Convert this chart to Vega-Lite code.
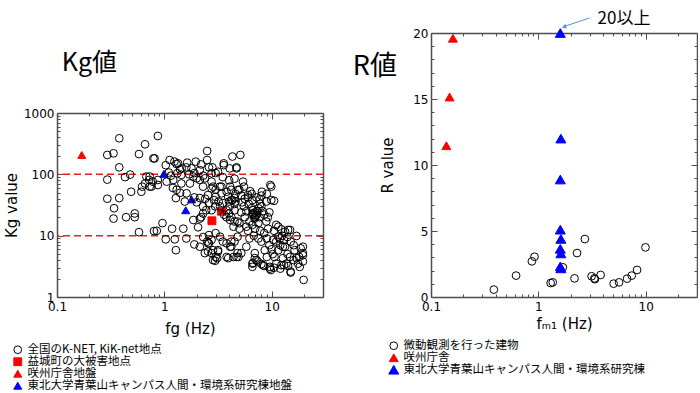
{
  "$schema": "https://vega.github.io/schema/vega-lite/v6.json",
  "padding": {"left": 4, "top": 10, "right": 0, "bottom": 0},
  "bounds": "flush",
  "spacing": 108,
  "config": {
    "view": {"stroke": null},
    "axis": {
      "grid": false, "domainColor": "#4d4d4d", "domainWidth": 1.5, "tickColor": "#4d4d4d", "tickWidth": 1,
      "labelFont": "DejaVu Sans", "labelFontSize": 12, "labelColor": "#000",
      "titleFont": "DejaVu Sans", "titleFontSize": 15, "titleFontWeight": "normal", "titleColor": "#000",
      "labelFlush": false, "labelOverlap": false
    },
    "legend": {"padding": 0, "labelFont": "Noto Sans CJK JP", "labelFontSize": 11.5, "labelLimit": 400, "rowPadding": -2, "labelOffset": 4, "symbolStrokeWidth": 1}
  },
  "datasets": {
    "kg": [
      {"f": 0.38, "k": 387, "g": "全国のK-NET, KiK-net地点"},
      {"f": 0.294, "k": 207, "g": "全国のK-NET, KiK-net地点"},
      {"f": 0.336, "k": 220, "g": "全国のK-NET, KiK-net地点"},
      {"f": 0.66, "k": 309, "g": "全国のK-NET, KiK-net地点"},
      {"f": 0.58, "k": 214, "g": "全国のK-NET, KiK-net地点"},
      {"f": 0.79, "k": 182, "g": "全国のK-NET, KiK-net地点"},
      {"f": 0.38, "k": 130, "g": "全国のK-NET, KiK-net地点"},
      {"f": 0.294, "k": 82, "g": "全国のK-NET, KiK-net地点"},
      {"f": 0.43, "k": 90, "g": "全国のK-NET, KiK-net地点"},
      {"f": 0.48, "k": 99, "g": "全国のK-NET, KiK-net地点"},
      {"f": 0.49, "k": 52, "g": "全国のK-NET, KiK-net地点"},
      {"f": 0.61, "k": 52, "g": "全国のK-NET, KiK-net地点"},
      {"f": 0.62, "k": 63, "g": "全国のK-NET, KiK-net地点"},
      {"f": 0.66, "k": 71, "g": "全国のK-NET, KiK-net地点"},
      {"f": 0.72, "k": 81, "g": "全国のK-NET, KiK-net地点"},
      {"f": 0.68, "k": 92, "g": "全国のK-NET, KiK-net地点"},
      {"f": 0.76, "k": 63, "g": "全国のK-NET, KiK-net地点"},
      {"f": 0.294, "k": 40, "g": "全国のK-NET, KiK-net地点"},
      {"f": 0.38, "k": 41, "g": "全国のK-NET, KiK-net地点"},
      {"f": 0.34, "k": 28, "g": "全国のK-NET, KiK-net地点"},
      {"f": 0.336, "k": 19, "g": "全国のK-NET, KiK-net地点"},
      {"f": 0.44, "k": 20, "g": "全国のK-NET, KiK-net地点"},
      {"f": 0.53, "k": 23, "g": "全国のK-NET, KiK-net地点"},
      {"f": 0.53, "k": 20, "g": "全国のK-NET, KiK-net地点"},
      {"f": 0.58, "k": 11.4, "g": "全国のK-NET, KiK-net地点"},
      {"f": 0.8, "k": 11.9, "g": "全国のK-NET, KiK-net地点"},
      {"f": 0.87, "k": 422, "g": "全国のK-NET, KiK-net地点"},
      {"f": 0.81, "k": 182, "g": "全国のK-NET, KiK-net地点"},
      {"f": 1.12, "k": 171, "g": "全国のK-NET, KiK-net地点"},
      {"f": 1.24, "k": 161, "g": "全国のK-NET, KiK-net地点"},
      {"f": 1.34, "k": 151, "g": "全国のK-NET, KiK-net地点"},
      {"f": 1.63, "k": 155, "g": "全国のK-NET, KiK-net地点"},
      {"f": 1.96, "k": 161, "g": "全国のK-NET, KiK-net地点"},
      {"f": 1.79, "k": 125, "g": "全国のK-NET, KiK-net地点"},
      {"f": 2.5, "k": 240, "g": "全国のK-NET, KiK-net地点"},
      {"f": 2.5, "k": 171, "g": "全国のK-NET, KiK-net地点"},
      {"f": 3.57, "k": 151, "g": "全国のK-NET, KiK-net地点"},
      {"f": 4.3, "k": 195, "g": "全国のK-NET, KiK-net地点"},
      {"f": 5.1, "k": 207, "g": "全国のK-NET, KiK-net地点"},
      {"f": 2.14, "k": 117, "g": "全国のK-NET, KiK-net地点"},
      {"f": 2.75, "k": 104, "g": "全国のK-NET, KiK-net地点"},
      {"f": 3.16, "k": 110, "g": "全国のK-NET, KiK-net地点"},
      {"f": 4.06, "k": 125, "g": "全国のK-NET, KiK-net地点"},
      {"f": 0.73, "k": 92, "g": "全国のK-NET, KiK-net地点"},
      {"f": 0.87, "k": 81, "g": "全国のK-NET, KiK-net地点"},
      {"f": 1.21, "k": 81, "g": "全国のK-NET, KiK-net地点"},
      {"f": 1.44, "k": 71, "g": "全国のK-NET, KiK-net地点"},
      {"f": 1.73, "k": 71, "g": "全国のK-NET, KiK-net地点"},
      {"f": 2.0, "k": 86, "g": "全国のK-NET, KiK-net地点"},
      {"f": 2.29, "k": 63, "g": "全国のK-NET, KiK-net地点"},
      {"f": 2.75, "k": 59, "g": "全国のK-NET, KiK-net地点"},
      {"f": 3.28, "k": 63, "g": "全国のK-NET, KiK-net地点"},
      {"f": 4.2, "k": 56, "g": "全国のK-NET, KiK-net地点"},
      {"f": 4.86, "k": 56, "g": "全国のK-NET, KiK-net地点"},
      {"f": 1.28, "k": 41, "g": "全国のK-NET, KiK-net地点"},
      {"f": 1.61, "k": 49, "g": "全国のK-NET, KiK-net地点"},
      {"f": 1.55, "k": 36, "g": "全国のK-NET, KiK-net地点"},
      {"f": 2.14, "k": 41, "g": "全国のK-NET, KiK-net地点"},
      {"f": 2.29, "k": 30, "g": "全国のK-NET, KiK-net地点"},
      {"f": 2.75, "k": 26, "g": "全国のK-NET, KiK-net地点"},
      {"f": 3.79, "k": 20, "g": "全国のK-NET, KiK-net地点"},
      {"f": 2.14, "k": 19, "g": "全国のK-NET, KiK-net地点"},
      {"f": 0.85, "k": 12, "g": "全国のK-NET, KiK-net地点"},
      {"f": 0.96, "k": 16, "g": "全国のK-NET, KiK-net地点"},
      {"f": 1.18, "k": 13, "g": "全国のK-NET, KiK-net地点"},
      {"f": 1.5, "k": 13, "g": "全国のK-NET, KiK-net地点"},
      {"f": 2.06, "k": 13.7, "g": "全国のK-NET, KiK-net地点"},
      {"f": 1.03, "k": 8.7, "g": "全国のK-NET, KiK-net地点"},
      {"f": 1.28, "k": 5.8, "g": "全国のK-NET, KiK-net地点"},
      {"f": 1.25, "k": 8.7, "g": "全国のK-NET, KiK-net地点"},
      {"f": 2.14, "k": 6.6, "g": "全国のK-NET, KiK-net地点"},
      {"f": 2.56, "k": 7.5, "g": "全国のK-NET, KiK-net地点"},
      {"f": 2.84, "k": 5.8, "g": "全国のK-NET, KiK-net地点"},
      {"f": 2.84, "k": 4.0, "g": "全国のK-NET, KiK-net地点"},
      {"f": 3.16, "k": 5.5, "g": "全国のK-NET, KiK-net地点"},
      {"f": 3.79, "k": 7.5, "g": "全国のK-NET, KiK-net地点"},
      {"f": 4.2, "k": 6.6, "g": "全国のK-NET, KiK-net地点"},
      {"f": 3.93, "k": 4.3, "g": "全国のK-NET, KiK-net地点"},
      {"f": 4.7, "k": 4.5, "g": "全国のK-NET, KiK-net地点"},
      {"f": 2.38, "k": 5.2, "g": "全国のK-NET, KiK-net地点"},
      {"f": 0.73, "k": 63, "g": "全国のK-NET, KiK-net地点"},
      {"f": 1.03, "k": 141, "g": "全国のK-NET, KiK-net地点"},
      {"f": 1.3, "k": 147, "g": "全国のK-NET, KiK-net地点"},
      {"f": 1.1, "k": 107, "g": "全国のK-NET, KiK-net地点"},
      {"f": 1.32, "k": 104, "g": "全国のK-NET, KiK-net地点"},
      {"f": 1.44, "k": 98, "g": "全国のK-NET, KiK-net地点"},
      {"f": 0.78, "k": 76, "g": "全国のK-NET, KiK-net地点"},
      {"f": 0.87, "k": 67, "g": "全国のK-NET, KiK-net地点"},
      {"f": 1.05, "k": 76, "g": "全国のK-NET, KiK-net地点"},
      {"f": 1.86, "k": 92, "g": "全国のK-NET, KiK-net地点"},
      {"f": 2.75, "k": 76, "g": "全国のK-NET, KiK-net地点"},
      {"f": 3.0, "k": 56, "g": "全国のK-NET, KiK-net地点"},
      {"f": 3.4, "k": 49, "g": "全国のK-NET, KiK-net地点"},
      {"f": 3.93, "k": 43, "g": "全国のK-NET, KiK-net地点"},
      {"f": 4.2, "k": 38, "g": "全国のK-NET, KiK-net地点"},
      {"f": 4.5, "k": 41, "g": "全国のK-NET, KiK-net地点"},
      {"f": 2.55, "k": 46, "g": "全国のK-NET, KiK-net地点"},
      {"f": 3.0, "k": 43, "g": "全国のK-NET, KiK-net地点"},
      {"f": 2.29, "k": 23, "g": "全国のK-NET, KiK-net地点"},
      {"f": 2.45, "k": 26, "g": "全国のK-NET, KiK-net地点"},
      {"f": 2.97, "k": 30, "g": "全国のK-NET, KiK-net地点"},
      {"f": 4.06, "k": 30, "g": "全国のK-NET, KiK-net地点"},
      {"f": 3.79, "k": 26, "g": "全国のK-NET, KiK-net地点"},
      {"f": 4.5, "k": 26, "g": "全国のK-NET, KiK-net地点"},
      {"f": 4.1, "k": 18, "g": "全国のK-NET, KiK-net地点"},
      {"f": 4.8, "k": 17, "g": "全国のK-NET, KiK-net地点"},
      {"f": 1.86, "k": 18, "g": "全国のK-NET, KiK-net地点"},
      {"f": 2.2, "k": 20, "g": "全国のK-NET, KiK-net地点"},
      {"f": 2.6, "k": 10.2, "g": "全国のK-NET, KiK-net地点"},
      {"f": 3.0, "k": 11, "g": "全国のK-NET, KiK-net地点"},
      {"f": 3.3, "k": 9.6, "g": "全国のK-NET, KiK-net地点"},
      {"f": 2.75, "k": 8.5, "g": "全国のK-NET, KiK-net地点"},
      {"f": 3.5, "k": 8, "g": "全国のK-NET, KiK-net地点"},
      {"f": 4.2, "k": 8, "g": "全国のK-NET, KiK-net地点"},
      {"f": 2.55, "k": 5.5, "g": "全国のK-NET, KiK-net地点"},
      {"f": 3.0, "k": 4.5, "g": "全国のK-NET, KiK-net地点"},
      {"f": 4.7, "k": 125, "g": "全国のK-NET, KiK-net地点"},
      {"f": 5.4, "k": 76, "g": "全国のK-NET, KiK-net地点"},
      {"f": 9.7, "k": 67, "g": "全国のK-NET, KiK-net地点"},
      {"f": 10.5, "k": 37, "g": "全国のK-NET, KiK-net地点"},
      {"f": 8.1, "k": 52, "g": "全国のK-NET, KiK-net地点"},
      {"f": 6.0, "k": 42, "g": "全国のK-NET, KiK-net地点"},
      {"f": 6.6, "k": 38, "g": "全国のK-NET, KiK-net地点"},
      {"f": 7.7, "k": 39, "g": "全国のK-NET, KiK-net地点"},
      {"f": 8.9, "k": 36, "g": "全国のK-NET, KiK-net地点"},
      {"f": 6.7, "k": 26, "g": "全国のK-NET, KiK-net地点"},
      {"f": 6.7, "k": 23, "g": "全国のK-NET, KiK-net地点"},
      {"f": 6.95, "k": 20, "g": "全国のK-NET, KiK-net地点"},
      {"f": 7.5, "k": 16, "g": "全国のK-NET, KiK-net地点"},
      {"f": 5.6, "k": 20, "g": "全国のK-NET, KiK-net地点"},
      {"f": 5.0, "k": 16, "g": "全国のK-NET, KiK-net地点"},
      {"f": 4.5, "k": 17, "g": "全国のK-NET, KiK-net地点"},
      {"f": 8.9, "k": 17, "g": "全国のK-NET, KiK-net地点"},
      {"f": 9.25, "k": 13, "g": "全国のK-NET, KiK-net地点"},
      {"f": 11, "k": 15, "g": "全国のK-NET, KiK-net地点"},
      {"f": 12.3, "k": 12.7, "g": "全国のK-NET, KiK-net地点"},
      {"f": 14.2, "k": 12.4, "g": "全国のK-NET, KiK-net地点"},
      {"f": 17, "k": 9.9, "g": "全国のK-NET, KiK-net地点"},
      {"f": 11.5, "k": 9.6, "g": "全国のK-NET, KiK-net地点"},
      {"f": 10.3, "k": 8.5, "g": "全国のK-NET, KiK-net地点"},
      {"f": 6.2, "k": 9.0, "g": "全国のK-NET, KiK-net地点"},
      {"f": 4.8, "k": 9.6, "g": "全国のK-NET, KiK-net地点"},
      {"f": 5.8, "k": 6.6, "g": "全国のK-NET, KiK-net地点"},
      {"f": 5.2, "k": 5.2, "g": "全国のK-NET, KiK-net地点"},
      {"f": 6.95, "k": 5.2, "g": "全国のK-NET, KiK-net地点"},
      {"f": 8.6, "k": 5.8, "g": "全国のK-NET, KiK-net地点"},
      {"f": 6.7, "k": 3.6, "g": "全国のK-NET, KiK-net地点"},
      {"f": 8.0, "k": 3.45, "g": "全国のK-NET, KiK-net地点"},
      {"f": 9.6, "k": 3.1, "g": "全国のK-NET, KiK-net地点"},
      {"f": 12.3, "k": 3.3, "g": "全国のK-NET, KiK-net地点"},
      {"f": 13.7, "k": 3.5, "g": "全国のK-NET, KiK-net地点"},
      {"f": 15, "k": 2.5, "g": "全国のK-NET, KiK-net地点"},
      {"f": 17.6, "k": 3.5, "g": "全国のK-NET, KiK-net地点"},
      {"f": 19.5, "k": 6.6, "g": "全国のK-NET, KiK-net地点"},
      {"f": 19.5, "k": 4.8, "g": "全国のK-NET, KiK-net地点"},
      {"f": 19.8, "k": 1.9, "g": "全国のK-NET, KiK-net地点"},
      {"f": 14.8, "k": 4.5, "g": "全国のK-NET, KiK-net地点"},
      {"f": 12.7, "k": 4.3, "g": "全国のK-NET, KiK-net地点"},
      {"f": 11, "k": 3.5, "g": "全国のK-NET, KiK-net地点"},
      {"f": 10.6, "k": 4.5, "g": "全国のK-NET, KiK-net地点"},
      {"f": 11.5, "k": 5.8, "g": "全国のK-NET, KiK-net地点"},
      {"f": 13.3, "k": 6.6, "g": "全国のK-NET, KiK-net地点"},
      {"f": 16.3, "k": 5.8, "g": "全国のK-NET, KiK-net地点"},
      {"f": 17, "k": 4.3, "g": "全国のK-NET, KiK-net地点"},
      {"f": 6.95, "k": 4.3, "g": "全国のK-NET, KiK-net地点"},
      {"f": 3.57, "k": 141, "g": "全国のK-NET, KiK-net地点"},
      {"f": 4.7, "k": 130, "g": "全国のK-NET, KiK-net地点"},
      {"f": 2.14, "k": 81, "g": "全国のK-NET, KiK-net地点"},
      {"f": 2.38, "k": 86, "g": "全国のK-NET, KiK-net地点"},
      {"f": 2.84, "k": 63, "g": "全国のK-NET, KiK-net地点"},
      {"f": 3.4, "k": 63, "g": "全国のK-NET, KiK-net地点"},
      {"f": 4.1, "k": 63, "g": "全国のK-NET, KiK-net地点"},
      {"f": 3.8, "k": 52, "g": "全国のK-NET, KiK-net地点"},
      {"f": 4.3, "k": 38, "g": "全国のK-NET, KiK-net地点"},
      {"f": 4.5, "k": 33, "g": "全国のK-NET, KiK-net地点"},
      {"f": 5.0, "k": 56, "g": "全国のK-NET, KiK-net地点"},
      {"f": 6.0, "k": 46, "g": "全国のK-NET, KiK-net地点"},
      {"f": 6.6, "k": 23, "g": "全国のK-NET, KiK-net地点"},
      {"f": 7.2, "k": 22, "g": "全国のK-NET, KiK-net地点"},
      {"f": 7.7, "k": 20, "g": "全国のK-NET, KiK-net地点"},
      {"f": 9.9, "k": 38, "g": "全国のK-NET, KiK-net地点"},
      {"f": 9.9, "k": 63, "g": "全国のK-NET, KiK-net地点"},
      {"f": 6.6, "k": 15, "g": "全国のK-NET, KiK-net地点"},
      {"f": 5.8, "k": 14, "g": "全国のK-NET, KiK-net地点"},
      {"f": 5.0, "k": 13, "g": "全国のK-NET, KiK-net地点"},
      {"f": 4.4, "k": 14, "g": "全国のK-NET, KiK-net地点"},
      {"f": 4.5, "k": 8, "g": "全国のK-NET, KiK-net地点"},
      {"f": 4.1, "k": 6.6, "g": "全国のK-NET, KiK-net地点"},
      {"f": 4.8, "k": 5.2, "g": "全国のK-NET, KiK-net地点"},
      {"f": 4.9, "k": 4.5, "g": "全国のK-NET, KiK-net地点"},
      {"f": 4.4, "k": 4.5, "g": "全国のK-NET, KiK-net地点"},
      {"f": 3.8, "k": 4.5, "g": "全国のK-NET, KiK-net地点"},
      {"f": 3.16, "k": 5.8, "g": "全国のK-NET, KiK-net地点"},
      {"f": 2.75, "k": 5.2, "g": "全国のK-NET, KiK-net地点"},
      {"f": 2.97, "k": 3.9, "g": "全国のK-NET, KiK-net地点"},
      {"f": 3.1, "k": 4.3, "g": "全国のK-NET, KiK-net地点"},
      {"f": 2.6, "k": 7.5, "g": "全国のK-NET, KiK-net地点"},
      {"f": 2.5, "k": 8, "g": "全国のK-NET, KiK-net地点"},
      {"f": 6.6, "k": 3.5, "g": "全国のK-NET, KiK-net地点"},
      {"f": 7.2, "k": 4.0, "g": "全国のK-NET, KiK-net地点"},
      {"f": 6.6, "k": 3.1, "g": "全国のK-NET, KiK-net地点"},
      {"f": 8.3, "k": 3.3, "g": "全国のK-NET, KiK-net地点"},
      {"f": 9.6, "k": 2.9, "g": "全国のK-NET, KiK-net地点"},
      {"f": 9.8, "k": 2.75, "g": "全国のK-NET, KiK-net地点"},
      {"f": 12.7, "k": 6.6, "g": "全国のK-NET, KiK-net地点"},
      {"f": 11, "k": 8, "g": "全国のK-NET, KiK-net地点"},
      {"f": 11.9, "k": 9, "g": "全国のK-NET, KiK-net地点"},
      {"f": 13.3, "k": 11.6, "g": "全国のK-NET, KiK-net地点"},
      {"f": 14.8, "k": 12.4, "g": "全国のK-NET, KiK-net地点"},
      {"f": 14.2, "k": 3.2, "g": "全国のK-NET, KiK-net地点"},
      {"f": 15, "k": 2.6, "g": "全国のK-NET, KiK-net地点"},
      {"f": 18.2, "k": 3.1, "g": "全国のK-NET, KiK-net地点"},
      {"f": 19.5, "k": 3.8, "g": "全国のK-NET, KiK-net地点"},
      {"f": 18.6, "k": 6.2, "g": "全国のK-NET, KiK-net地点"},
      {"f": 19.5, "k": 5.2, "g": "全国のK-NET, KiK-net地点"},
      {"f": 6.8, "k": 22, "g": "全国のK-NET, KiK-net地点"},
      {"f": 7.0, "k": 24, "g": "全国のK-NET, KiK-net地点"},
      {"f": 7.1, "k": 21, "g": "全国のK-NET, KiK-net地点"},
      {"f": 6.9, "k": 19, "g": "全国のK-NET, KiK-net地点"},
      {"f": 7.3, "k": 25, "g": "全国のK-NET, KiK-net地点"},
      {"f": 6.5, "k": 28, "g": "全国のK-NET, KiK-net地点"},
      {"f": 7.5, "k": 28, "g": "全国のK-NET, KiK-net地点"},
      {"f": 8.2, "k": 25, "g": "全国のK-NET, KiK-net地点"},
      {"f": 8.5, "k": 22, "g": "全国のK-NET, KiK-net地点"},
      {"f": 9.2, "k": 20, "g": "全国のK-NET, KiK-net地点"},
      {"f": 9.5, "k": 24, "g": "全国のK-NET, KiK-net地点"},
      {"f": 8.0, "k": 30, "g": "全国のK-NET, KiK-net地点"},
      {"f": 7.8, "k": 33, "g": "全国のK-NET, KiK-net地点"},
      {"f": 5.5, "k": 30, "g": "全国のK-NET, KiK-net地点"},
      {"f": 5.2, "k": 24, "g": "全国のK-NET, KiK-net地点"},
      {"f": 5.8, "k": 25, "g": "全国のK-NET, KiK-net地点"},
      {"f": 6.2, "k": 17, "g": "全国のK-NET, KiK-net地点"},
      {"f": 6.0, "k": 12, "g": "全国のK-NET, KiK-net地点"},
      {"f": 7.0, "k": 13, "g": "全国のK-NET, KiK-net地点"},
      {"f": 7.8, "k": 12, "g": "全国のK-NET, KiK-net地点"},
      {"f": 8.5, "k": 11, "g": "全国のK-NET, KiK-net地点"},
      {"f": 9.0, "k": 9, "g": "全国のK-NET, KiK-net地点"},
      {"f": 8.0, "k": 8, "g": "全国のK-NET, KiK-net地点"},
      {"f": 7.5, "k": 9, "g": "全国のK-NET, KiK-net地点"},
      {"f": 6.8, "k": 10, "g": "全国のK-NET, KiK-net地点"},
      {"f": 9.5, "k": 7, "g": "全国のK-NET, KiK-net地点"},
      {"f": 10.0, "k": 6.0, "g": "全国のK-NET, KiK-net地点"},
      {"f": 12.0, "k": 7, "g": "全国のK-NET, KiK-net地点"},
      {"f": 13.0, "k": 8.5, "g": "全国のK-NET, KiK-net地点"},
      {"f": 14.0, "k": 9.5, "g": "全国のK-NET, KiK-net地点"},
      {"f": 15.0, "k": 8, "g": "全国のK-NET, KiK-net地点"},
      {"f": 16.0, "k": 7, "g": "全国のK-NET, KiK-net地点"},
      {"f": 10.5, "k": 12, "g": "全国のK-NET, KiK-net地点"},
      {"f": 11.5, "k": 14, "g": "全国のK-NET, KiK-net地点"},
      {"f": 12.5, "k": 10, "g": "全国のK-NET, KiK-net地点"},
      {"f": 14, "k": 5, "g": "全国のK-NET, KiK-net地点"},
      {"f": 16, "k": 4, "g": "全国のK-NET, KiK-net地点"},
      {"f": 18, "k": 4.5, "g": "全国のK-NET, KiK-net地点"},
      {"f": 12, "k": 2.9, "g": "全国のK-NET, KiK-net地点"},
      {"f": 8.5, "k": 3.2, "g": "全国のK-NET, KiK-net地点"},
      {"f": 7.4, "k": 3.8, "g": "全国のK-NET, KiK-net地点"},
      {"f": 9, "k": 4.5, "g": "全国のK-NET, KiK-net地点"},
      {"f": 10.2, "k": 5, "g": "全国のK-NET, KiK-net地点"},
      {"f": 10.5, "k": 3, "g": "全国のK-NET, KiK-net地点"},
      {"f": 13, "k": 3.3, "g": "全国のK-NET, KiK-net地点"},
      {"f": 4.2, "k": 20, "g": "全国のK-NET, KiK-net地点"},
      {"f": 4.0, "k": 23, "g": "全国のK-NET, KiK-net地点"},
      {"f": 3.6, "k": 22, "g": "全国のK-NET, KiK-net地点"},
      {"f": 3.3, "k": 30, "g": "全国のK-NET, KiK-net地点"},
      {"f": 3.5, "k": 34, "g": "全国のK-NET, KiK-net地点"},
      {"f": 4.0, "k": 36, "g": "全国のK-NET, KiK-net地点"},
      {"f": 4.6, "k": 36, "g": "全国のK-NET, KiK-net地点"},
      {"f": 4.6, "k": 48, "g": "全国のK-NET, KiK-net地点"},
      {"f": 5.2, "k": 45, "g": "全国のK-NET, KiK-net地点"},
      {"f": 5.6, "k": 40, "g": "全国のK-NET, KiK-net地点"},
      {"f": 6.3, "k": 53, "g": "全国のK-NET, KiK-net地点"},
      {"f": 6.1, "k": 33, "g": "全国のK-NET, KiK-net地点"},
      {"f": 5.3, "k": 35, "g": "全国のK-NET, KiK-net地点"},
      {"f": 3.2, "k": 36, "g": "全国のK-NET, KiK-net地点"},
      {"f": 2.9, "k": 38, "g": "全国のK-NET, KiK-net地点"},
      {"f": 2.6, "k": 34, "g": "全国のK-NET, KiK-net地点"},
      {"f": 2.4, "k": 40, "g": "全国のK-NET, KiK-net地点"},
      {"f": 2.0, "k": 35, "g": "全国のK-NET, KiK-net地点"},
      {"f": 1.9, "k": 42, "g": "全国のK-NET, KiK-net地点"},
      {"f": 1.4, "k": 50, "g": "全国のK-NET, KiK-net地点"},
      {"f": 1.3, "k": 56, "g": "全国のK-NET, KiK-net地点"},
      {"f": 1.2, "k": 60, "g": "全国のK-NET, KiK-net地点"},
      {"f": 1.15, "k": 95, "g": "全国のK-NET, KiK-net地点"},
      {"f": 1.4, "k": 120, "g": "全国のK-NET, KiK-net地点"},
      {"f": 1.6, "k": 130, "g": "全国のK-NET, KiK-net地点"},
      {"f": 1.9, "k": 105, "g": "全国のK-NET, KiK-net地点"},
      {"f": 2.3, "k": 95, "g": "全国のK-NET, KiK-net地点"},
      {"f": 2.6, "k": 130, "g": "全国のK-NET, KiK-net地点"},
      {"f": 3.0, "k": 105, "g": "全国のK-NET, KiK-net地点"},
      {"f": 3.5, "k": 90, "g": "全国のK-NET, KiK-net地点"},
      {"f": 4.0, "k": 80, "g": "全国のK-NET, KiK-net地点"},
      {"f": 4.5, "k": 85, "g": "全国のK-NET, KiK-net地点"},
      {"f": 5.5, "k": 63, "g": "全国のK-NET, KiK-net地点"},
      {"f": 6.5, "k": 48, "g": "全国のK-NET, KiK-net地点"},
      {"f": 7.2, "k": 42, "g": "全国のK-NET, KiK-net地点"},
      {"f": 8.0, "k": 45, "g": "全国のK-NET, KiK-net地点"},
      {"f": 9.0, "k": 48, "g": "全国のK-NET, KiK-net地点"},
      {"f": 1.7, "k": 100, "g": "全国のK-NET, KiK-net地点"},
      {"f": 1.45, "k": 125, "g": "全国のK-NET, KiK-net地点"},
      {"f": 2.2, "k": 145, "g": "全国のK-NET, KiK-net地点"},
      {"f": 2.8, "k": 130, "g": "全国のK-NET, KiK-net地点"},
      {"f": 1.6, "k": 9, "g": "全国のK-NET, KiK-net地点"},
      {"f": 1.9, "k": 7.2, "g": "全国のK-NET, KiK-net地点"},
      {"f": 2.3, "k": 9.5, "g": "全国のK-NET, KiK-net地点"},
      {"f": 3.4, "k": 25, "g": "益城町の大被害地点"},
      {"f": 2.77, "k": 17.5, "g": "益城町の大被害地点"},
      {"f": 0.17, "k": 207, "g": "咲州庁舎地盤"},
      {"f": 0.99, "k": 102, "g": "東北大学青葉山キャンパス人間・環境系研究棟地盤"},
      {"f": 1.79, "k": 39, "g": "東北大学青葉山キャンパス人間・環境系研究棟地盤"},
      {"f": 1.58, "k": 26, "g": "東北大学青葉山キャンパス人間・環境系研究棟地盤"}
    ],
    "rv": [
      {"f": 0.385, "r": 0.56, "g": "微動観測を行った建物"},
      {"f": 0.62, "r": 1.62, "g": "微動観測を行った建物"},
      {"f": 0.87, "r": 2.7, "g": "微動観測を行った建物"},
      {"f": 0.92, "r": 3.05, "g": "微動観測を行った建物"},
      {"f": 1.30, "r": 1.06, "g": "微動観測を行った建物"},
      {"f": 1.36, "r": 1.11, "g": "微動観測を行った建物"},
      {"f": 1.69, "r": 2.25, "g": "微動観測を行った建物"},
      {"f": 2.17, "r": 1.41, "g": "微動観測を行った建物"},
      {"f": 2.29, "r": 3.33, "g": "微動観測を行った建物"},
      {"f": 2.71, "r": 4.39, "g": "微動観測を行った建物"},
      {"f": 3.13, "r": 1.57, "g": "微動観測を行った建物"},
      {"f": 3.32, "r": 1.41, "g": "微動観測を行った建物"},
      {"f": 3.36, "r": 1.35, "g": "微動観測を行った建物"},
      {"f": 3.80, "r": 1.67, "g": "微動観測を行った建物"},
      {"f": 5.02, "r": 1.01, "g": "微動観測を行った建物"},
      {"f": 5.64, "r": 1.11, "g": "微動観測を行った建物"},
      {"f": 6.7, "r": 1.39, "g": "微動観測を行った建物"},
      {"f": 7.4, "r": 1.62, "g": "微動観測を行った建物"},
      {"f": 8.3, "r": 2.05, "g": "微動観測を行った建物"},
      {"f": 9.94, "r": 3.76, "g": "微動観測を行った建物"},
      {"f": 0.139, "r": 11.46, "g": "咲州庁舎"},
      {"f": 0.149, "r": 15.15, "g": "咲州庁舎"},
      {"f": 0.160, "r": 19.6, "g": "咲州庁舎"},
      {"f": 1.6, "r": 20, "g": "東北大学青葉山キャンパス人間・環境系研究棟"},
      {"f": 1.62, "r": 12, "g": "東北大学青葉山キャンパス人間・環境系研究棟"},
      {"f": 1.6, "r": 8.9, "g": "東北大学青葉山キャンパス人間・環境系研究棟"},
      {"f": 1.6, "r": 5.1, "g": "東北大学青葉山キャンパス人間・環境系研究棟"},
      {"f": 1.62, "r": 4.4, "g": "東北大学青葉山キャンパス人間・環境系研究棟"},
      {"f": 1.6, "r": 3.65, "g": "東北大学青葉山キャンパス人間・環境系研究棟"},
      {"f": 1.62, "r": 3.3, "g": "東北大学青葉山キャンパス人間・環境系研究棟"},
      {"f": 1.6, "r": 2.32, "g": "東北大学青葉山キャンパス人間・環境系研究棟"},
      {"f": 1.62, "r": 2.17, "g": "東北大学青葉山キャンパス人間・環境系研究棟"}
    ],
    "kglines": [{"k": 100}, {"k": 10}]
  },
  "hconcat": [
    {
      "width": 266,
      "height": 264,
      "resolve": {"axis": {"x": "independent", "y": "independent"}},
      "layer": [
        {
          "data": {"name": "kglines"},
          "mark": {"type": "rule", "color": "#ee1c1c", "strokeWidth": 1.5, "strokeDash": [7, 4]},
          "encoding": {
            "y": {"field": "k", "type": "quantitative", "scale": {"type": "log", "domain": [1, 1000], "range": [264, 80]}, "axis": null}
          }
        },
        {
          "data": {"name": "kg"},
          "mark": {"type": "point", "filled": true, "strokeWidth": 1, "opacity": 1},
          "encoding": {
            "x": {"field": "f", "type": "quantitative", "scale": {"type": "log", "domain": [0.1, 30]},
              "axis": {"orient": "bottom", "title": "fg (Hz)", "values": [0.1,0.2,0.3,0.4,0.5,0.6,0.7,0.8,0.9,1,2,3,4,5,6,7,8,9,10,20],
                "labelExpr": "abs(log(datum.value)/LN10 - round(log(datum.value)/LN10)) < 0.001 ? datum.value + '' : ''",
                "tickSize": {"condition": {"test": "abs(log(datum.value)/LN10 - round(log(datum.value)/LN10)) < 0.001", "value": -6}, "value": -3},
                "labelPadding": 10, "titlePadding": 6}},
            "y": {"field": "k", "type": "quantitative", "scale": {"type": "log", "domain": [1, 1000], "range": [264, 80]},
              "axis": {"orient": "left", "title": "Kg value", "values": [1,2,3,4,5,6,7,8,9,10,20,30,40,50,60,70,80,90,100,200,300,400,500,600,700,800,900,1000],
                "labelExpr": "abs(log(datum.value)/LN10 - round(log(datum.value)/LN10)) < 0.001 ? datum.value + '' : ''",
                "tickSize": {"condition": {"test": "abs(log(datum.value)/LN10 - round(log(datum.value)/LN10)) < 0.001", "value": -6}, "value": -3},
                "labelPadding": 9, "titlePadding": 4}},
            "shape": {"field": "g", "type": "nominal", "scale": {"domain": ["全国のK-NET, KiK-net地点", "益城町の大被害地点", "咲州庁舎地盤", "東北大学青葉山キャンパス人間・環境系研究棟地盤"], "range": ["circle", "square", "triangle-up", "triangle-up"]},
              "legend": {"orient": "none", "legendX": -45, "legendY": 311, "title": null}},
            "fill": {"field": "g", "type": "nominal", "scale": {"domain": ["全国のK-NET, KiK-net地点", "益城町の大被害地点", "咲州庁舎地盤", "東北大学青葉山キャンパス人間・環境系研究棟地盤"], "range": ["rgba(0,0,0,0)", "#ff0000", "#ff0000", "#0000ff"]},
              "legend": {"orient": "none", "legendX": -45, "legendY": 311, "title": null}},
            "stroke": {"field": "g", "type": "nominal", "scale": {"domain": ["全国のK-NET, KiK-net地点", "益城町の大被害地点", "咲州庁舎地盤", "東北大学青葉山キャンパス人間・環境系研究棟地盤"], "range": ["#000000", "#ff0000", "#ff0000", "#0000ff"]},
              "legend": {"orient": "none", "legendX": -45, "legendY": 311, "title": null}},
            "size": {"field": "g", "type": "nominal", "scale": {"domain": ["全国のK-NET, KiK-net地点", "益城町の大被害地点", "咲州庁舎地盤", "東北大学青葉山キャンパス人間・環境系研究棟地盤"], "range": [60, 64, 100, 100]},
              "legend": {"orient": "none", "legendX": -45, "legendY": 311, "title": null}},
            "order": {"field": "g", "sort": "descending"}
          }
        },
        {
          "data": {"name": "kg"},
          "mark": {"type": "point", "opacity": 0},
          "encoding": {
            "x": {"field": "f", "type": "quantitative", "scale": {"type": "log", "domain": [0.1, 30]},
              "axis": {"orient": "top", "title": null, "labels": false, "offset": -80, "values": [0.1,0.2,0.3,0.4,0.5,0.6,0.7,0.8,0.9,1,2,3,4,5,6,7,8,9,10,20],
                "tickSize": {"condition": {"test": "abs(log(datum.value)/LN10 - round(log(datum.value)/LN10)) < 0.001", "value": -6}, "value": -3}}},
            "y": {"field": "k", "type": "quantitative", "scale": {"type": "log", "domain": [1, 1000], "range": [264, 80]},
              "axis": {"orient": "right", "title": null, "labels": false, "values": [1,2,3,4,5,6,7,8,9,10,20,30,40,50,60,70,80,90,100,200,300,400,500,600,700,800,900,1000],
                "tickSize": {"condition": {"test": "abs(log(datum.value)/LN10 - round(log(datum.value)/LN10)) < 0.001", "value": -6}, "value": -3}}}
          }
        },
        {
          "data": {"values": [{"label": "Kg値"}]},
          "mark": {"type": "text", "align": "left", "baseline": "middle", "fontSize": 25, "font": "Noto Sans CJK JP"},
          "encoding": {
            "text": {"field": "label"},
            "x": {"datum": 0.111, "type": "quantitative", "scale": {"type": "log", "domain": [0.1, 30]}, "axis": null},
            "y": {"datum": 6500, "type": "quantitative", "scale": {"type": "log", "domain": [1, 1000], "range": [264, 80]}, "axis": null}
          }
        }
      ]
    },
    {
      "width": 266,
      "height": 264,
      "resolve": {"axis": {"x": "independent", "y": "independent"}},
      "layer": [
        {
          "data": {"name": "rv"},
          "mark": {"type": "point", "filled": true, "strokeWidth": 1, "opacity": 1},
          "encoding": {
            "x": {"field": "f", "type": "quantitative", "scale": {"type": "log", "domain": [0.1, 30]},
              "axis": {"orient": "bottom", "title": "fₘ₁ (Hz)", "values": [0.1,0.2,0.3,0.4,0.5,0.6,0.7,0.8,0.9,1,2,3,4,5,6,7,8,9,10,20],
                "labelExpr": "abs(log(datum.value)/LN10 - round(log(datum.value)/LN10)) < 0.001 ? datum.value + '' : ''",
                "tickSize": {"condition": {"test": "abs(log(datum.value)/LN10 - round(log(datum.value)/LN10)) < 0.001", "value": -6}, "value": -3},
                "labelPadding": 10, "titlePadding": 1}},
            "y": {"field": "r", "type": "quantitative", "scale": {"domain": [0, 20], "nice": false},
              "axis": {"orient": "left", "title": "R value", "values": [0,1,2,3,4,5,6,7,8,9,10,11,12,13,14,15,16,17,18,19,20],
                "labelExpr": "datum.value % 5 == 0 ? datum.value + '' : ''",
                "tickSize": {"condition": {"test": "datum.value % 5 == 0", "value": -6}, "value": -3},
                "labelPadding": 9, "titlePadding": 17}},
            "shape": {"field": "g", "type": "nominal", "scale": {"domain": ["微動観測を行った建物", "咲州庁舎", "東北大学青葉山キャンパス人間・環境系研究棟"], "range": ["circle", "triangle-up", "triangle-up"]},
              "legend": {"orient": "none", "legendX": -43, "legendY": 307, "title": null}},
            "fill": {"field": "g", "type": "nominal", "scale": {"domain": ["微動観測を行った建物", "咲州庁舎", "東北大学青葉山キャンパス人間・環境系研究棟"], "range": ["rgba(0,0,0,0)", "#ff0000", "#0000ff"]},
              "legend": {"orient": "none", "legendX": -43, "legendY": 307, "title": null}},
            "stroke": {"field": "g", "type": "nominal", "scale": {"domain": ["微動観測を行った建物", "咲州庁舎", "東北大学青葉山キャンパス人間・環境系研究棟"], "range": ["#000000", "#ff0000", "#0000ff"]},
              "legend": {"orient": "none", "legendX": -43, "legendY": 307, "title": null}},
            "size": {"field": "g", "type": "nominal", "scale": {"domain": ["微動観測を行った建物", "咲州庁舎", "東北大学青葉山キャンパス人間・環境系研究棟"], "range": [60, 100, 100]},
              "legend": {"orient": "none", "legendX": -43, "legendY": 307, "title": null}}
          }
        },
        {
          "data": {"name": "rv"},
          "mark": {"type": "point", "opacity": 0},
          "encoding": {
            "x": {"field": "f", "type": "quantitative", "scale": {"type": "log", "domain": [0.1, 30]},
              "axis": {"orient": "top", "title": null, "labels": false, "values": [0.1,0.2,0.3,0.4,0.5,0.6,0.7,0.8,0.9,1,2,3,4,5,6,7,8,9,10,20],
                "tickSize": {"condition": {"test": "abs(log(datum.value)/LN10 - round(log(datum.value)/LN10)) < 0.001", "value": -6}, "value": -3}}},
            "y": {"field": "r", "type": "quantitative", "scale": {"domain": [0, 20], "nice": false},
              "axis": {"orient": "right", "title": null, "labels": false, "values": [0,1,2,3,4,5,6,7,8,9,10,11,12,13,14,15,16,17,18,19,20],
                "tickSize": {"condition": {"test": "datum.value % 5 == 0", "value": -6}, "value": -3}}}
          }
        },
        {
          "data": {"values": [{"label": "20以上"}]},
          "mark": {"type": "rule", "color": "#5b8fd6", "strokeWidth": 1},
          "encoding": {
            "x": {"datum": 3.0, "type": "quantitative", "scale": {"type": "log", "domain": [0.1, 30]}, "axis": null},
            "x2": {"datum": 1.75},
            "y": {"datum": 21.14, "type": "quantitative", "scale": {"domain": [0, 20], "nice": false}, "axis": null},
            "y2": {"datum": 20.5}
          }
        },
        {
          "data": {"values": [{"label": "20以上"}]},
          "mark": {"type": "point", "shape": "triangle", "filled": true, "color": "#5b8fd6", "size": 25, "angle": 251, "opacity": 1},
          "encoding": {
            "x": {"datum": 1.76, "type": "quantitative", "scale": {"type": "log", "domain": [0.1, 30]}, "axis": null},
            "y": {"datum": 20.48, "type": "quantitative", "scale": {"domain": [0, 20], "nice": false}, "axis": null}
          }
        },
        {
          "data": {"values": [{"label": "20以上"}]},
          "mark": {"type": "text", "align": "left", "baseline": "middle", "fontSize": 17, "font": "Noto Sans CJK JP"},
          "encoding": {
            "text": {"field": "label"},
            "x": {"datum": 3.56, "type": "quantitative", "scale": {"type": "log", "domain": [0.1, 30]}, "axis": null},
            "y": {"datum": 21.06, "type": "quantitative", "scale": {"domain": [0, 20], "nice": false}, "axis": null}
          }
        },
        {
          "data": {"values": [{"label": "R値"}]},
          "mark": {"type": "text", "align": "left", "baseline": "middle", "fontSize": 27, "font": "Noto Sans CJK JP"},
          "encoding": {
            "text": {"field": "label"},
            "x": {"datum": 0.0187, "type": "quantitative", "scale": {"type": "log", "domain": [0.1, 30]}, "axis": null},
            "y": {"datum": 17.4, "type": "quantitative", "scale": {"domain": [0, 20], "nice": false}, "axis": null}
          }
        }
      ]
    }
  ],
  "resolve": {"scale": {"shape": "independent", "fill": "independent", "stroke": "independent", "size": "independent"}, "legend": {"shape": "independent", "fill": "independent", "stroke": "independent", "size": "independent"}}
}
